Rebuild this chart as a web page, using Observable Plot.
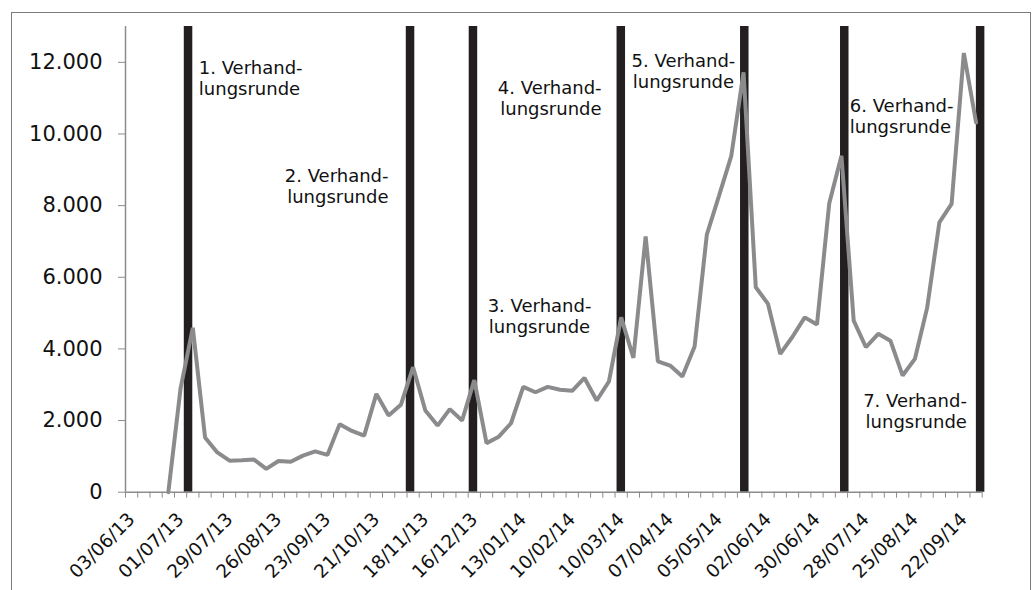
<!DOCTYPE html>
<html>
<head>
<meta charset="utf-8">
<script src="https://cdn.jsdelivr.net/npm/d3@7"></script>
<script src="https://cdn.jsdelivr.net/npm/@observablehq/plot@0.6"></script>
<style>
  html, body { margin: 0; padding: 0; background: #fff; overflow: hidden; width: 1035px; height: 590px; }
  #frame { position: absolute; left: 11px; top: 12px; width: 1020px; height: 700px; border: 1px solid #7a7a7a; box-sizing: border-box; }
  #chart { position: absolute; left: 0; top: 0; }
</style>
</head>
<body>
<div id="frame"></div>
<div id="chart"></div>
<script>
// Weekly values (weeks starting 03/06/13, 70 weeks)
const values = [null, null, null, 0, 2900, 4590, 1530, 1110, 880, 890,
  910, 650, 870, 850, 1020, 1140, 1040, 1900, 1710, 1580,
  2745, 2140, 2440, 3490, 2280, 1860, 2320, 2000, 3130, 1370,
  1550, 1925, 2940, 2790, 2940, 2860, 2830, 3190, 2560, 3090,
  4880, 3750, 7140, 3655, 3535, 3230, 4065, 7190, 8280, 9390,
  11720, 5720, 5256, 3860, 4340, 4880, 4680, 8060, 9390, 4790,
  4046, 4420, 4230, 3256, 3720, 5145, 7530, 8050, 12260, 10320];

const tickLabels = ["03/06/13", "01/07/13", "29/07/13", "26/08/13", "23/09/13", "21/10/13",
  "18/11/13", "16/12/13", "13/01/14", "10/02/14", "10/03/14", "07/04/14",
  "05/05/14", "02/06/14", "30/06/14", "28/07/14", "25/08/14", "22/09/14"];

const yTicks = [0, 2000, 4000, 6000, 8000, 10000, 12000];

// negotiation rounds (position in weeks from 03/06/13)
const rounds = [4.61, 22.75, 27.89, 39.97, 50.06, 58.23, 69.33];
const roundLabels = ["1. Verhand-\nlungsrunde", "2. Verhand-\nlungsrunde", "3. Verhand-\nlungsrunde",
  "4. Verhand-\nlungsrunde", "5. Verhand-\nlungsrunde", "6. Verhand-\nlungsrunde", "7. Verhand-\nlungsrunde"];

// label placement (layout)
const labelPlace = [
  {x: 5.49, y: 12090, anchor: "start"},
  {x: 20.99, y: 9068, anchor: "end"},
  {x: 33.33, y: 5441, anchor: "middle"},
  {x: 38.4, y: 11534, anchor: "end"},
  {x: 45.09, y: 12276, anchor: "middle"},
  {x: 58.68, y: 11020, anchor: "start"},
  {x: 68.25, y: 2790, anchor: "end"}
];

const series = values.map((v, i) => ({i, v}));
const labels = roundLabels.map((t, k) => ({text: t, ...labelPlace[k]}));
const nWeeks = values.length;

const fmt = d => d3.format(",")(d).replace(/,/g, ".");
const axisGray = "#8c8c8c";
const font = "Verdana, 'DejaVu Sans', sans-serif";

const textMarks = ["start", "middle", "end"].map(a =>
  Plot.text(labels.filter(d => d.anchor === a), {
    x: "x", y: "y", text: "text", textAnchor: a, lineAnchor: "top",
    fontSize: 18, lineHeight: 1.17, fill: "#111", fontFamily: font
  })
);

const chart = Plot.plot({
  width: 1035,
  height: 590,
  marginLeft: 125,
  marginRight: 53.3,
  marginTop: 26,
  marginBottom: 98.3,
  style: {fontFamily: font, background: "transparent", overflow: "visible"},
  x: {domain: [-0.5, nWeeks - 0.5]},
  y: {domain: [0, 13000]},
  marks: [
    Plot.ruleX(rounds, {x: d => d, stroke: "#231f20", strokeWidth: 8.5}),
    Plot.ruleX([-0.5], {stroke: axisGray, strokeWidth: 1.5}),
    Plot.ruleY([0], {stroke: axisGray, strokeWidth: 1.5}),
    Plot.axisY({ticks: yTicks, tickFormat: fmt, tickSize: 7, tickPadding: 16, fontSize: 21,
      stroke: axisGray, fill: "#111", label: null}),
    Plot.axisX({ticks: d3.range(-0.5, nWeeks, 1), tickFormat: () => "", tickSize: 6,
      stroke: axisGray, label: null}),
    Plot.axisX({ticks: d3.range(0, nWeeks, 4), tickFormat: i => tickLabels[i / 4], tickSize: 0,
      tickPadding: 24, tickRotate: -45, fontSize: 18.5, fill: "#111", label: null}),
    Plot.line(series, {x: "i", y: "v", stroke: "#8b8b8d", strokeWidth: 4, strokeLinejoin: "miter"}),
    ...textMarks
  ]
});
document.getElementById("chart").appendChild(chart);
</script>
</body>
</html>
